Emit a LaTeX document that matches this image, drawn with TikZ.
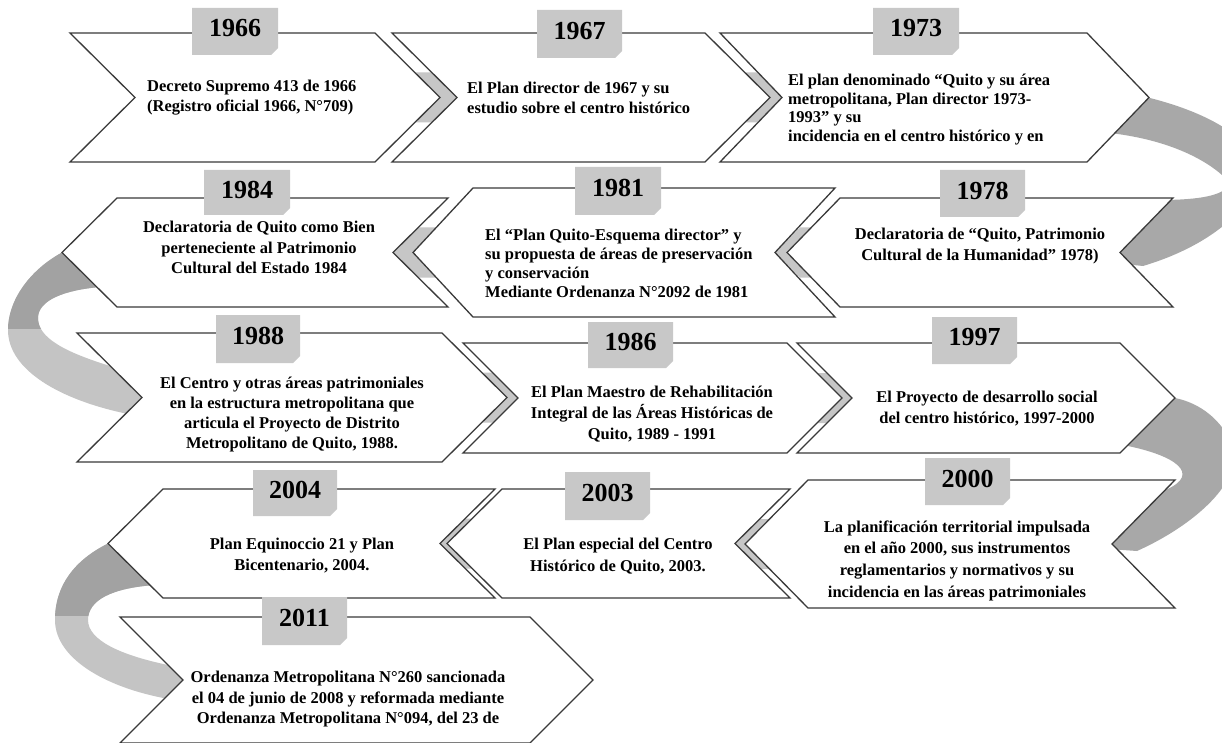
\documentclass[tikz,border=0pt]{standalone}
\usepackage{fontspec}
\setmainfont{Liberation Serif}
\definecolor{edgecol}{HTML}{3A3A3A}
\definecolor{tabgray}{HTML}{C8C8C8}
\definecolor{ribdark}{HTML}{A2A2A2}
\definecolor{riblight}{HTML}{C4C4C4}
\definecolor{ribmid}{HTML}{A8A8A8}
\definecolor{jointgray}{HTML}{C6C6C6}
\tikzset{
  chev/.style={draw=edgecol, line width=1.3pt, fill=white, line join=miter},
  yeartxt/.style={font=\fontsize{26}{26}\selectfont\bfseries, inner sep=0pt},
  body/.style={font=\fontsize{16.5}{#1}\selectfont\bfseries, inner sep=0pt, align=center},
  body/.default=20,
  bodyl/.style={font=\fontsize{16.5}{#1}\selectfont\bfseries, inner sep=0pt, align=left, anchor=west},
  bodyl/.default=20
}
% right-pointing chevron: L R T B d
\newcommand\ChevR[5]{\draw[chev] (#1,#3) -- (#2,#3) -- ({#2+#5},{(#3+#4)/2}) -- (#2,#4) -- (#1,#4) -- ({#1+#5},{(#3+#4)/2}) -- cycle;}
% left-pointing chevron: L R T B d
\newcommand\ChevL[5]{\draw[chev] (#1,#3) -- (#2,#3) -- ({#2-#5},{(#3+#4)/2}) -- (#2,#4) -- (#1,#4) -- ({#1-#5},{(#3+#4)/2}) -- cycle;}
% joint shading
\newcommand\JointR[3]{\fill[jointgray] ({#1-25},{#3-25}) -- (#1,#3) -- ({#1-25},{#3+25}) -- ({#2-25},{#3+25}) -- (#2,#3) -- ({#2-25},{#3-25}) -- cycle;}
\newcommand\JointL[3]{\fill[jointgray] ({#1+25},{#3-25}) -- (#1,#3) -- ({#1+25},{#3+25}) -- ({#2+25},{#3+25}) -- (#2,#3) -- ({#2+25},{#3-25}) -- cycle;}
% year tab: name x1 x2 y1 y2 text
\newcommand\YearTab[6]{\fill[tabgray] (#2,#4) -- (#3,#4) -- (#3,{#5-7}) -- ({#3-7},#5) -- (#2,#5) -- cycle;
  \node[yeartxt] (#1) at ({(#2+#3)/2},{(#4+#5)/2-3}) {#6};}
% ribbons
\newcommand\RibLone[1]{\fill[#1] (62,252.5) .. controls (30,270) and (8,300) .. (8,330) .. controls (8,370) and (60,400) .. (128,414) -- (150,414) -- (150,380) -- (110,366) .. controls (65,352) and (38,338) .. (38,318) .. controls (38,300) and (65,290) .. (100,287) -- cycle;}
\newcommand\RibLtwo[1]{\fill[#1] (108,543.5) .. controls (75,560) and (55,585) .. (55,620) .. controls (55,660) and (110,690) .. (175,700) -- (195,700) -- (195,665) -- (168,665) .. controls (120,655) and (88,640) .. (88,620) .. controls (88,600) and (112,588) .. (155,585) -- cycle;}
\begin{document}
\begin{tikzpicture}[x=1pt,y=-1pt]
\useasboundingbox (0,0) rectangle (1222,743);
\clip (0,0) rectangle (1222,743);
\fill[white] (0,0) rectangle (1222,743);

% ---- ribbons ----
\fill[ribmid] (1148,97.5) .. controls (1190,108) and (1230,125) .. (1250,150) .. controls (1275,185) and (1230,240) .. (1143,266) -- (1105,262) -- (1105,240) -- (1160,200) .. controls (1230,200) and (1235,185) .. (1222,175) .. controls (1205,160) and (1170,140) .. (1110,133) -- cycle;
\fill[ribmid] (1175,398) .. controls (1200,403) and (1222,420) .. (1232,445) .. controls (1245,480) and (1195,525) .. (1137,551) -- (1095,548) -- (1095,530) -- (1160,492) .. controls (1200,478) and (1185,458) .. (1128,446) -- (1120,420) -- cycle;
\RibLone{riblight}
\begin{scope}\clip (0,0) rectangle (1222,328); \RibLone{ribdark}\end{scope}
\RibLtwo{riblight}
\begin{scope}\clip (0,0) rectangle (1222,615); \RibLtwo{ribdark}\end{scope}

% ---- joints ----
\JointR{440}{457}{97.5}
\JointR{770}{782}{97.5}
\JointL{393}{413}{252.5}
\JointL{775}{787}{252.5}
\JointR{507}{518}{397.5}
\JointR{842}{852}{398}
\JointL{440}{447}{543.5}
\JointL{735}{745}{544}

% ---- chevrons ----
\ChevR{70}{375}{33}{162}{65}
\ChevR{392}{705}{33}{162}{65}
\ChevR{720}{1087}{33}{162}{62}
\ChevL{117}{448}{198}{307}{55}
\ChevL{473}{835}{188}{317}{60}
\ChevL{840}{1173}{198}{307}{53}
\ChevR{77}{442}{333}{462}{65}
\ChevR{463}{787}{343}{453}{55}
\ChevR{797}{1120}{343}{453}{55}
\ChevL{163}{495}{489}{598}{55}
\ChevL{502}{790}{489}{598}{55}
\ChevL{808}{1175}{480}{608}{63}
\ChevR{120}{530}{617}{743}{63}

% ---- year tabs ----
\YearTab{y1966}{192}{278}{8}{55}{1966}
\YearTab{y1967}{537}{622}{10}{58}{1967}
\YearTab{y1973}{873}{959}{8}{55}{1973}
\YearTab{y1984}{204}{290}{170}{215}{1984}
\YearTab{y1981}{575}{661}{167}{215}{1981}
\YearTab{y1978}{940}{1025}{170}{217}{1978}
\YearTab{y1988}{216}{300}{315}{363}{1988}
\YearTab{y1986}{588}{673}{322}{368}{1986}
\YearTab{y1997}{932}{1017}{317}{364}{1997}
\YearTab{y2004}{253}{337}{470}{516}{2004}
\YearTab{y2003}{565}{650}{472}{520}{2003}
\YearTab{y2000}{925}{1010}{458}{505}{2000}
\YearTab{y2011}{262}{347}{597}{645}{2011}

% ---- texts ----
\node[bodyl] (t1966) at (147,98) {Decreto Supremo 413 de 1966\\(Registro oficial 1966, N°709)};
\node[bodyl] (t1967) at (467,98) {El Plan director de 1967 y su\\estudio sobre el centro histórico};
\node[bodyl=18.5] (t1973) at (788,109.5) {El plan denominado “Quito y su área\\metropolitana, Plan director 1973-\\1993” y su\\incidencia en el centro histórico y en};
\node[body=20.5] (t1984) at (259,247.5) {Declaratoria de Quito como Bien\\perteneciente al Patrimonio\\Cultural del Estado 1984};
\node[bodyl=19] (t1981) at (485,263.5) {El “Plan Quito-Esquema director” y\\su propuesta de áreas de preservación\\y conservación\\Mediante Ordenanza N°2092 de 1981};
\node[body=21] (t1978) at (980,246.5) {Declaratoria de “Quito, Patrimonio\\Cultural de la Humanidad” 1978)};
\node[body=20.3] (t1988) at (292,414.5) {El Centro y otras áreas patrimoniales\\en la estructura metropolitana que\\articula el Proyecto de Distrito\\Metropolitano de Quito, 1988.};
\node[body=21] (t1986) at (652,414) {El Plan Maestro de Rehabilitación\\Integral de las Áreas Históricas de\\Quito, 1989 - 1991};
\node[body=21] (t1997) at (987,408.5) {El Proyecto de desarrollo social\\del centro histórico, 1997-2000};
\node[body=21] (t2004) at (302,555.5) {Plan Equinoccio 21 y Plan\\Bicentenario, 2004.};
\node[body=22] (t2003) at (618,556) {El Plan especial del Centro\\Histórico de Quito, 2003.};
\node[body=21.7] (t2000) at (957,560.5) {La planificación territorial impulsada\\en el año 2000, sus instrumentos\\reglamentarios y normativos y su\\incidencia en las áreas patrimoniales};
\node[body=20.5] (t2011) at (348,699.5) {Ordenanza Metropolitana N°260 sancionada\\el 04 de junio de 2008 y reformada mediante\\Ordenanza Metropolitana N°094, del 23 de};
\end{tikzpicture}
\end{document}
